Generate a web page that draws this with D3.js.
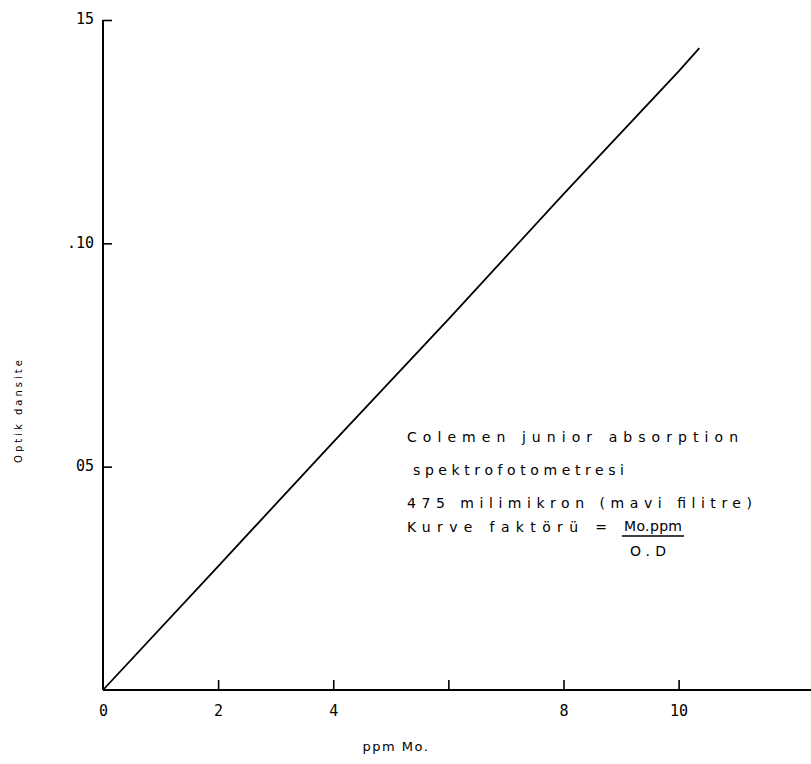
<!DOCTYPE html>
<html>
<head>
<meta charset="utf-8">
<script src="https://cdn.jsdelivr.net/npm/d3@7"></script>
<style>
  body { margin: 0; background: #fff; }
  svg { display: block; font-family: "DejaVu Sans", sans-serif; }
</style>
</head>
<body>
<svg></svg>
<script>
const ppm = [0, 2, 4, 6, 8, 10, 10.36];
const density = [0, 2.77, 5.55, 8.3, 11.1, 13.85, 14.37];
const xTicks = [0, 2, 4, 6, 8, 10];
const xTickLabels = ["0", "2", "4", "", "8", "10"];
const yTicks = [5, 10, 15];
const yTickLabels = ["05", ".10", "15"];
const noteLines = [
  "Colemen junior absorption",
  "spektrofotometresi",
  "475 milimikron (mavi filitre)"
];

const svg = d3.select("svg").attr("width", 811).attr("height", 764);

const x = d3.scaleLinear().domain([0, 12.3]).range([103, 811]);
const y = d3.scaleLinear().domain([0, 15]).range([690, 20]);

// axes
const xAxis = svg.append("g").attr("transform", `translate(0,${y(0)})`)
  .call(d3.axisBottom(x).tickValues(xTicks).tickSize(-10).tickFormat((d, i) => xTickLabels[i]));
xAxis.select(".domain").attr("stroke-width", 2).attr("d", `M${x(0)},0H811`);
xAxis.selectAll(".tick line").attr("stroke-width", 1.6);
xAxis.selectAll(".tick text").attr("dy", "1.55em").attr("font-size", 15).attr("font-family", "DejaVu Sans Mono");
xAxis.selectAll(".tick").filter(d => d === 0).select("line").remove();

const yAxis = svg.append("g").attr("transform", `translate(${x(0)},0)`)
  .call(d3.axisLeft(y).tickValues(yTicks).tickSize(-9).tickFormat((d, i) => yTickLabels[i]));
yAxis.select(".domain").attr("stroke-width", 2).attr("d", `M0,${y(0)}V${y(15)}`);
yAxis.selectAll(".tick line").attr("stroke-width", 1.6);
yAxis.selectAll(".tick text").attr("x", -9).attr("dy", "0.25em").attr("font-size", 15).attr("font-family", "DejaVu Sans Mono");

// y axis label
svg.append("text")
  .attr("transform", "translate(22,410) rotate(-90)")
  .attr("text-anchor", "middle")
  .attr("font-size", 10)
  .attr("letter-spacing", 3)
  .text("Optik dansite");

// x axis label
svg.append("text")
  .attr("x", 396).attr("y", 751)
  .attr("text-anchor", "middle")
  .attr("font-size", 13)
  .attr("letter-spacing", 1.5)
  .text("ppm Mo.");

// calibration line
svg.append("path")
  .datum(ppm.map((d, i) => [d, density[i]]))
  .attr("fill", "none")
  .attr("stroke", "#000")
  .attr("stroke-width", 1.8)
  .attr("d", d3.line().x(d => x(d[0])).y(d => y(d[1])));

// note
const note = svg.append("g").attr("font-size", 14).attr("fill", "#000");
const noteX = [407, 413, 407];
const noteW = [331, 211, 345];
const noteY = [442, 475, 508];
noteLines.forEach((t, i) => {
  note.append("text")
    .attr("x", noteX[i]).attr("y", noteY[i])
    .attr("textLength", noteW[i]).attr("lengthAdjust", "spacing")
    .text(t);
});
note.append("text").attr("x", 407).attr("y", 532)
  .attr("textLength", 200).attr("lengthAdjust", "spacing")
  .text("Kurve faktörü =");
note.append("text").attr("x", 624).attr("y", 531)
  .attr("textLength", 58).attr("lengthAdjust", "spacing")
  .text("Mo.ppm");
note.append("line")
  .attr("x1", 622).attr("x2", 684).attr("y1", 536).attr("y2", 536)
  .attr("stroke", "#000").attr("stroke-width", 1.4);
note.append("text").attr("x", 630).attr("y", 556)
  .attr("textLength", 36).attr("lengthAdjust", "spacing")
  .text("O.D");
</script>
</body>
</html>
